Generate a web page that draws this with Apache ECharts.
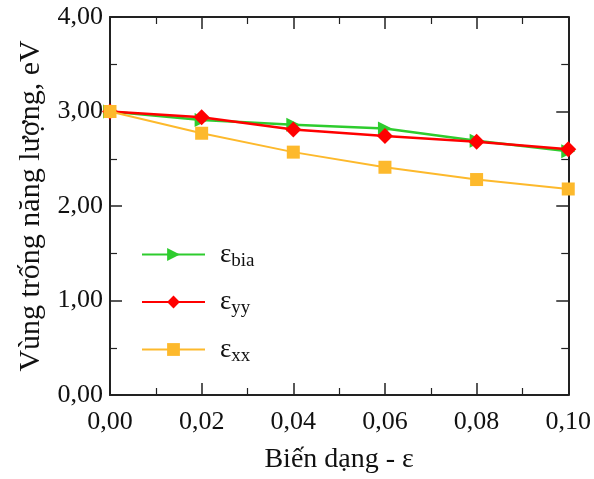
<!DOCTYPE html>
<html><head><meta charset="utf-8">
<script src="https://cdn.jsdelivr.net/npm/echarts@6/dist/echarts.min.js"></script>
<style>html,body{margin:0;padding:0;background:#fff}#c{width:594px;height:479px}</style>
</head><body><div id="c"></div>
<script>
var xValues = [0.00, 0.02, 0.04, 0.06, 0.08, 0.10];
var epsBia = [3.00, 2.91, 2.86, 2.82, 2.69, 2.58];
var epsYY  = [3.00, 2.94, 2.81, 2.74, 2.68, 2.60];
var epsXX  = [3.00, 2.77, 2.57, 2.41, 2.28, 2.18];
var seriesNames = ['bia', 'yy', 'xx'];

function pairs(arr){ return xValues.map(function(x,i){ return [x, arr[i]]; }); }
var FONT = '"Liberation Serif", "DejaVu Serif", serif';
var axisColor = '#222';
function fmt(v){ return v.toFixed(2).replace('.', ','); }

var chart = echarts.init(document.getElementById('c'));
var baseAxis = {
  axisLine: {show: true, onZero: false, lineStyle: {color: axisColor, width: 2}},
  axisTick: {show: true, inside: true, length: 12, lineStyle: {color: axisColor, width: 1.5}},
  minorTick: {show: true, splitNumber: 2, length: 7, lineStyle: {color: axisColor, width: 1.2}},
  splitLine: {show: false}
};
chart.setOption({
  animation: false,
  textStyle: {fontFamily: FONT},
  grid: {left: 110, right: 24, top: 17, bottom: 82},
  legend: {
    orient: 'vertical', left: 136, top: 236, itemGap: 18,
    itemWidth: 63, itemHeight: 16,
    data: seriesNames.map(function(n){ return 'ε_' + n; }),
    formatter: function(name){ return '{e|ε}{s|' + name.split('_')[1] + '}'; },
    textStyle: {
      fontFamily: FONT, color: '#111',
      rich: {
        e: {fontSize: 27, fontFamily: FONT, color: '#111', padding: [0,0,0,10]},
        s: {fontSize: 19, fontFamily: FONT, color: '#111', verticalAlign: 'bottom', padding: [13,0,0,0]}
      }
    }
  },
  xAxis: [
    Object.assign({}, baseAxis, {
      type: 'value', min: 0, max: 0.1, interval: 0.02, position: 'bottom',
      name: 'Biến dạng - ε', nameLocation: 'middle', nameGap: 51,
      nameTextStyle: {fontFamily: FONT, fontSize: 28, color: '#111'},
      axisLabel: {fontFamily: FONT, fontSize: 26, color: '#111', margin: 14, formatter: fmt}
    }),
    Object.assign({}, baseAxis, {
      type: 'value', min: 0, max: 0.1, interval: 0.02, position: 'top',
      axisLabel: {show: false}
    })
  ],
  yAxis: [
    Object.assign({}, baseAxis, {
      type: 'value', min: 0, max: 4, interval: 1, position: 'left',
      name: 'Vùng trống năng lượng, eV', nameLocation: 'middle', nameGap: 62,
      nameTextStyle: {fontFamily: FONT, fontSize: 30, color: '#111'},
      axisLabel: {fontFamily: FONT, fontSize: 26, color: '#111', margin: 7, formatter: fmt}
    }),
    Object.assign({}, baseAxis, {
      type: 'value', min: 0, max: 4, interval: 1, position: 'right',
      axisLabel: {show: false}
    })
  ],
  series: [
    {name: 'ε_bia', type: 'line', data: pairs(epsBia), symbol: 'triangle', symbolRotate: -90, symbolSize: 14,
     color: '#2ecc2e', lineStyle: {width: 2.5}, itemStyle: {color: '#2ecc2e'}, z: 2},
    {name: 'ε_yy', type: 'line', data: pairs(epsYY), symbol: 'diamond', symbolSize: 16,
     color: '#ff0000', lineStyle: {width: 2.5}, itemStyle: {color: '#ff0000'}, z: 3},
    {name: 'ε_xx', type: 'line', data: pairs(epsXX), symbol: 'rect', symbolSize: 13,
     color: '#fdb92c', lineStyle: {width: 2}, itemStyle: {color: '#fdb92c'}, z: 4}
  ]
});
</script></body></html>
